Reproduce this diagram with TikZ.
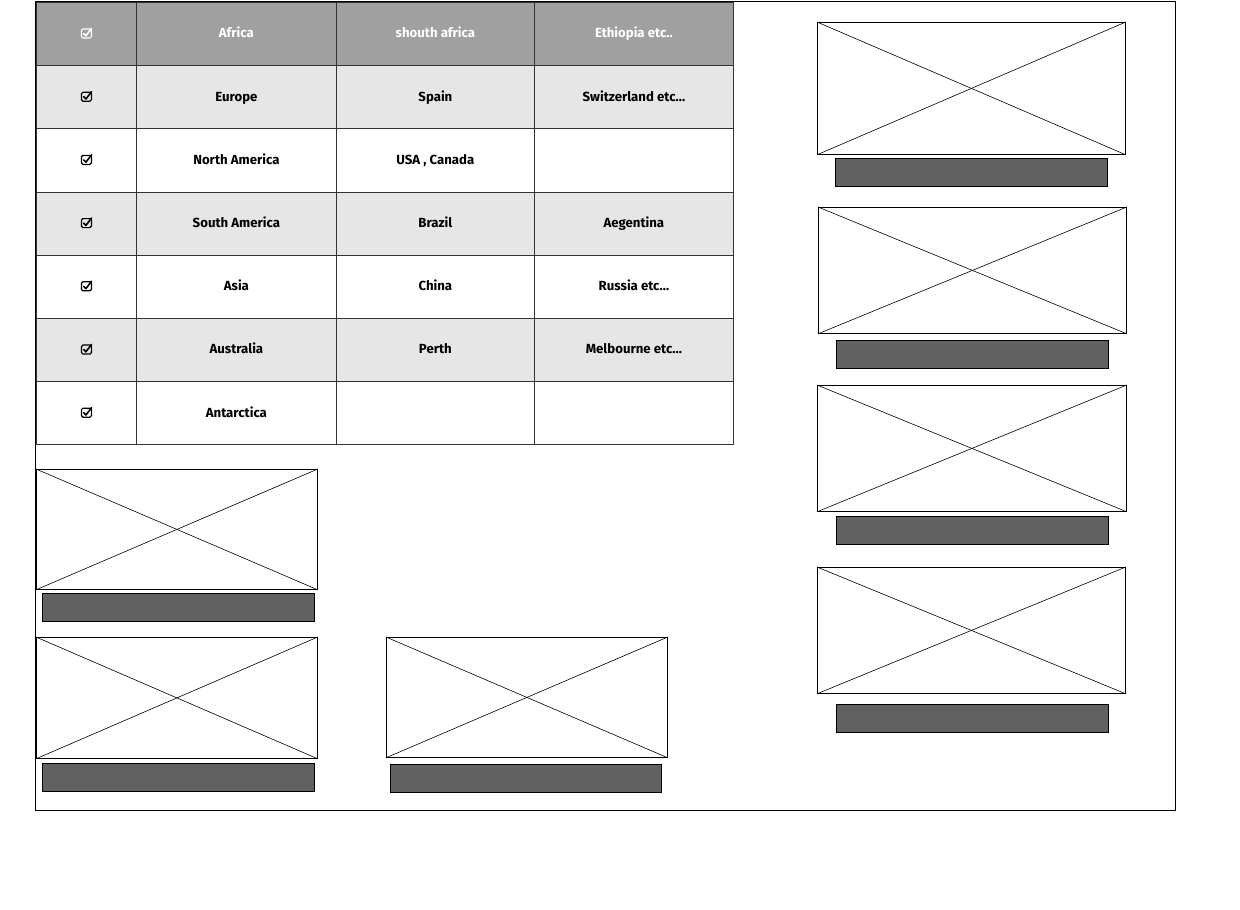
\documentclass[tikz,border=0pt]{standalone}
\usepackage{fontspec}
\setmainfont{Fira Sans}
\definecolor{headfill}{HTML}{A0A0A0}
\definecolor{altfill}{HTML}{E6E6E6}
\definecolor{barfill}{HTML}{616161}
\definecolor{gridline}{HTML}{333333}
% one table row: #1 row index, #2 style, #3 top y, #4 tick colour, #5-#7 texts
\newcommand{\tablerow}[7]{%
  \node[#2,minimum width=100pt] (t#1-0) at (36,#3) {};
  \draw[checkbox,draw=#4] ([shift={(-5,-5)}]t#1-0.center) rectangle ([shift={(5,4)}]t#1-0.center);
  \draw[checkmark,draw=#4] ([shift={(-2.6,-0.4)}]t#1-0.center) -- ([shift={(-0.5,1.8)}]t#1-0.center)
     -- ([shift={(5.2,-5.6)}]t#1-0.center);
  \node[#2,minimum width=200pt] (t#1-1) at (136,#3) {#5};
  \node[#2,minimum width=198pt] (t#1-2) at (336,#3) {#6};
  \node[#2,minimum width=199pt] (t#1-3) at (534,#3) {#7};
}
\begin{document}
\begin{tikzpicture}[x=1pt,y=-1pt,
  cell/.style={draw=gridline,line width=0.8pt,anchor=north west,inner sep=0pt,
    minimum height=63.2pt,text height=9pt,text depth=1.2pt,
    font=\bfseries\fontsize{13.2}{15}\selectfont,text=black},
  headcell/.style={cell,fill=headfill,text=white},
  altcell/.style={cell,fill=altfill},
  checkbox/.style={line width=1.2pt,rounded corners=1.5pt},
  checkmark/.style={line width=1.6pt,line cap=round,line join=round},
  picbox/.style={draw=black,line width=0.8pt,fill=white,anchor=north west,inner sep=0pt},
  capbar/.style={draw=black,line width=0.8pt,fill=barfill,anchor=north west,inner sep=0pt},
  cross/.style={line width=0.6pt}]
\useasboundingbox (0,0) rectangle (1240,910);
\fill[white] (0,0) rectangle (1240,910);

% outer page frame
\node[draw=black,line width=0.8pt,anchor=north west,inner sep=0pt,
  minimum width=1140pt,minimum height=809pt] (frame) at (35,1) {};

% table of continents
\tablerow{0}{headcell}{2}{white}{Africa}{shouth africa}{Ethiopia etc..}
\tablerow{1}{altcell}{65.2}{black}{Europe}{Spain}{Switzerland etc...}
\tablerow{2}{cell}{128.4}{black}{North America}{USA , Canada}{}
\tablerow{3}{altcell}{191.6}{black}{South America}{Brazil}{Aegentina}
\tablerow{4}{cell}{254.8}{black}{Asia}{China}{Russia etc...}
\tablerow{5}{altcell}{318}{black}{Australia}{Perth}{Melbourne etc...}
\tablerow{6}{cell}{381.2}{black}{Antarctica}{}{}

% image placeholders with caption bars
\foreach \n/\x/\y/\w/\h/\bx/\by/\bw in {
  pa/36/469/281/120/42/593/272,
  pb/36/637/281/121/42/763/272,
  pc/386/637/281/120/390/764/271,
  pd/817/22/308/132/835/158/272,
  pe/818/207/308/126/836/340/272,
  pf/817/385/309/126/836/516/272,
  pg/817/567/308/126/836/704/272}{
  \node[picbox,minimum width=\w pt,minimum height=\h pt] (\n) at (\x,\y) {};
  \draw[cross] (\n.north west) -- (\n.south east);
  \draw[cross] (\n.south west) -- (\n.north east);
  \node[capbar,minimum width=\bw pt,minimum height=28pt] (\n-cap) at (\bx,\by) {};
}
\end{tikzpicture}
\end{document}
